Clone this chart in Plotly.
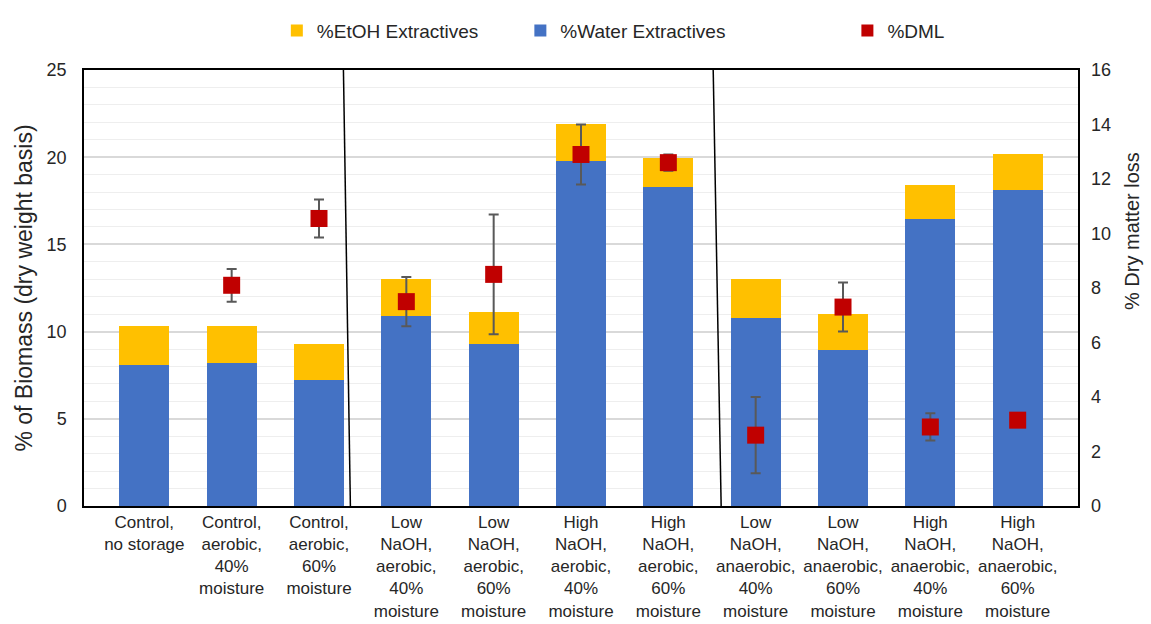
import plotly.graph_objects as go

# Storage treatments (x categories)
categories = [
    "Control,<br>no storage",
    "Control,<br>aerobic,<br>40%<br>moisture",
    "Control,<br>aerobic,<br>60%<br>moisture",
    "Low<br>NaOH,<br>aerobic,<br>40%<br>moisture",
    "Low<br>NaOH,<br>aerobic,<br>60%<br>moisture",
    "High<br>NaOH,<br>aerobic,<br>40%<br>moisture",
    "High<br>NaOH,<br>aerobic,<br>60%<br>moisture",
    "Low<br>NaOH,<br>anaerobic,<br>40%<br>moisture",
    "Low<br>NaOH,<br>anaerobic,<br>60%<br>moisture",
    "High<br>NaOH,<br>anaerobic,<br>40%<br>moisture",
    "High<br>NaOH,<br>anaerobic,<br>60%<br>moisture",
]

# % of biomass, stacked
water_extractives = [8.1, 8.2, 7.25, 10.9, 9.3, 19.8, 18.3, 10.8, 8.95, 16.45, 18.1]
etoh_extractives = [2.2, 2.1, 2.05, 2.1, 1.85, 2.1, 1.65, 2.2, 2.05, 1.95, 2.1]

# % dry matter loss (secondary axis) and its error
dml = [None, 8.1, 10.55, 7.5, 8.5, 12.9, 12.6, 2.6, 7.3, 2.9, 3.15]
dml_err = [0, 0.6, 0.7, 0.9, 2.2, 1.1, 0.3, 1.4, 0.9, 0.5, 0]

FONT = "Liberation Sans, Arial, sans-serif"
TXT = "#262626"

fig = go.Figure()

fig.add_trace(go.Bar(
    x=categories, y=water_extractives, name="%Water Extractives",
    marker=dict(color="#4472C4", line=dict(width=0)), legend="legend2",
))
fig.add_trace(go.Bar(
    x=categories, y=etoh_extractives, name="%EtOH Extractives",
    marker=dict(color="#FFC000", line=dict(width=0)), legend="legend",
))
fig.add_trace(go.Scatter(
    x=categories, y=dml, name="%DML", mode="markers", yaxis="y2",
    marker=dict(symbol="square", size=17, color="#C00000"),
    error_y=dict(type="data", array=dml_err, visible=True,
                 color="#595959", thickness=2, width=5),
    legend="legend3",
))

legend_common = dict(
    orientation="h", yanchor="middle", y=1.09, xanchor="left",
    font=dict(family=FONT, size=19, color=TXT), bgcolor="rgba(0,0,0,0)",
    itemsizing="constant", itemwidth=30,
)

fig.update_layout(
    width=1151, height=624,
    margin=dict(l=84, r=73, t=60, b=118),
    paper_bgcolor="white", plot_bgcolor="white",
    barmode="stack", bargap=0.43,
    showlegend=True,
    font=dict(family=FONT, size=17, color=TXT),
    legend=dict(x=0.194, **legend_common),
    legend2=dict(x=0.439, **legend_common),
    legend3=dict(x=0.768, **legend_common),
    xaxis=dict(
        type="category", showline=True, linecolor="black", linewidth=1.5,
        mirror=True, ticks="", tickfont=dict(size=17, color=TXT),
        automargin=False,
    ),
    yaxis=dict(
        range=[0, 25], dtick=5, showline=True, linecolor="black",
        linewidth=1.5, mirror=True, ticks="",
        gridcolor="#d9d9d9", gridwidth=1.5,
        minor=dict(dtick=1, showgrid=True, gridcolor="#eeeeee", gridwidth=1),
        zeroline=False, tickfont=dict(size=18, color=TXT),
        ticklabelstandoff=12,
        title=dict(text="% of Biomass (dry weight basis)",
                   font=dict(size=23, color=TXT), standoff=8),
        automargin=False,
    ),
    yaxis2=dict(
        range=[0, 16], dtick=2, overlaying="y", side="right",
        showgrid=False, zeroline=False, showline=False, ticks="",
        tickfont=dict(size=18, color=TXT), ticklabelstandoff=12,
        automargin=False,
    ),
    annotations=[dict(
        text="% Dry matter loss", textangle=-90, showarrow=False,
        xref="paper", yref="paper", x=1.055, y=0.63,
        xanchor="center", yanchor="middle",
        font=dict(family=FONT, size=20, color=TXT),
    )],
)

# Group separators
for x0, x1 in [(0.261, 0.268), (0.633, 0.641)]:
    fig.add_shape(type="line", xref="x domain", yref="y domain",
                  x0=x0, x1=x1, y0=1, y1=0,
                  line=dict(color="black", width=1.5))

fig.write_html("out.html")
